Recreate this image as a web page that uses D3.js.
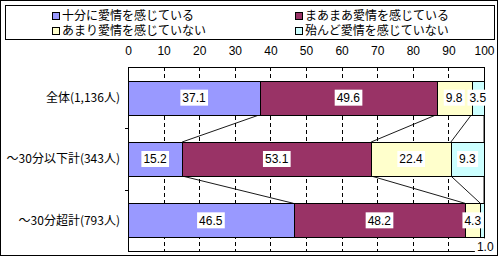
<!DOCTYPE html>
<html>
<head>
<meta charset="utf-8">
<script src="https://cdn.jsdelivr.net/npm/d3@7"></script>
<style>
  body { margin: 0; background: #fff; }
  svg { display: block; }
  .jp { font-family: "Noto Sans CJK JP", "Noto Sans", sans-serif; font-size: 12px; }
  .num { font-family: "Liberation Sans Narrow", "Liberation Sans", Arial, sans-serif; font-size: 12px; }
</style>
</head>
<body>
<div id="chart"></div>
<script>
// categories and series (percent)
const categories = ['全体(1,136人)', '～30分以下計(343人)', '～30分超計(793人)'];
const seriesNames = ['十分に愛情を感じている', 'まあまあ愛情を感じている', 'あまり愛情を感じていない', '殆んど愛情を感じていない'];
const seriesColors = ['#9999ff', '#993366', '#ffffcc', '#ccffff'];
const enough   = [37.1, 15.2, 46.5];
const fairly   = [49.6, 53.1, 48.2];
const little   = [9.8, 22.4, 4.3];
const hardly   = [3.5, 9.3, 1.0];
const tickValues = [0, 10, 20, 30, 40, 50, 60, 70, 80, 90, 100];

const width = 500, height = 257;
const plot = { left: 128, right: 484, top: 67, bottom: 251 };

const svg = d3.select('#chart').append('svg')
  .attr('width', width)
  .attr('height', height);

// outer frame
svg.append('rect')
  .attr('x', 0.5).attr('y', 0.5)
  .attr('width', 497).attr('height', 255)
  .attr('fill', '#fff').attr('stroke', '#000');

// legend
svg.append('rect')
  .attr('x', 5.5).attr('y', 5.5)
  .attr('width', 489).attr('height', 34)
  .attr('fill', '#fff').attr('stroke', '#000');

const legendPos = [[52, 12], [295, 12], [52, 27], [295, 27]];
const legend = svg.append('g').selectAll('g')
  .data(seriesNames)
  .enter().append('g')
  .attr('transform', (d, i) => `translate(${legendPos[i][0]},${legendPos[i][1]})`);
legend.append('rect')
  .attr('x', 0.5).attr('y', 0.5)
  .attr('width', 7).attr('height', 7)
  .attr('fill', (d, i) => seriesColors[i])
  .attr('stroke', '#000');
legend.append('text')
  .attr('class', 'jp')
  .attr('x', 10).attr('y', 4)
  .attr('dy', '0.36em')
  .text(d => d);

// scales
const x = d3.scaleLinear().domain([0, 100]).range([plot.left, plot.right]);
const y = d3.scaleBand().domain(categories)
  .range([plot.top, plot.bottom])
  .paddingInner(0.446)
  .paddingOuter(0.223);

// stacked data
const rows = categories.map((c, i) => ({ cat: c, vals: [enough[i], fairly[i], little[i], hardly[i]] }));
rows.forEach(r => {
  let acc = 0;
  r.segs = r.vals.map((v, k) => {
    const s = { k: k, v: v, x0: acc, x1: acc + v, cat: r.cat };
    acc += v;
    return s;
  });
});

// plot background + frame
svg.append('rect')
  .attr('x', plot.left + 0.5).attr('y', plot.top + 0.5)
  .attr('width', plot.right - plot.left).attr('height', plot.bottom - plot.top)
  .attr('fill', '#fff').attr('stroke', '#000');

// dashed gridlines
svg.append('g').selectAll('line')
  .data(tickValues.slice(1, -1))
  .enter().append('line')
  .attr('x1', d => Math.round(x(d)) + 0.5)
  .attr('x2', d => Math.round(x(d)) + 0.5)
  .attr('y1', plot.top)
  .attr('y2', plot.bottom)
  .attr('stroke', '#000')
  .attr('stroke-dasharray', '4,3');

// top axis labels
const axis = svg.append('g')
  .attr('transform', `translate(0,${plot.top})`)
  .call(d3.axisTop(x).tickValues(tickValues).tickSize(0).tickPadding(12));
axis.select('.domain').remove();
axis.selectAll('text')
  .attr('class', 'num')
  .attr('font-family', null)
  .attr('fill', '#000');

// category axis ticks at band boundaries
const step = y.step();
const bounds = [1, 2].map(i => plot.top + (plot.bottom - plot.top) * i / categories.length);
svg.append('g').selectAll('line')
  .data(bounds)
  .enter().append('line')
  .attr('x1', plot.left - 3)
  .attr('x2', plot.left)
  .attr('y1', d => Math.round(d) + 0.5)
  .attr('y2', d => Math.round(d) + 0.5)
  .attr('stroke', '#000');

// category labels
svg.append('g').selectAll('text')
  .data(categories)
  .enter().append('text')
  .attr('class', 'jp')
  .attr('x', plot.left - 8)
  .attr('y', d => y(d) + y.bandwidth() / 2)
  .attr('dy', '0.36em')
  .attr('text-anchor', 'end')
  .text(d => d);

// series lines between bars
const links = [];
for (let i = 0; i < rows.length - 1; i++) {
  rows[i].segs.forEach((s, k) => {
    links.push({ a: s.x1, b: rows[i + 1].segs[k].x1, y1: y(rows[i].cat) + y.bandwidth(), y2: y(rows[i + 1].cat) });
  });
}
svg.append('g').selectAll('line')
  .data(links)
  .enter().append('line')
  .attr('x1', d => x(d.a))
  .attr('x2', d => x(d.b))
  .attr('y1', d => d.y1)
  .attr('y2', d => d.y2)
  .attr('stroke', '#000')
  .attr('stroke-width', 0.9);

// bars
const segs = rows.flatMap(r => r.segs);
svg.append('g').selectAll('rect')
  .data(segs)
  .enter().append('rect')
  .attr('x', d => Math.round(x(d.x0)) + 0.5)
  .attr('y', d => Math.round(y(d.cat)) + 0.5)
  .attr('width', d => Math.round(x(d.x1)) - Math.round(x(d.x0)))
  .attr('height', Math.round(y.bandwidth()))
  .attr('fill', d => seriesColors[d.k])
  .attr('stroke', '#000');

// value labels with white boxes
const lab = svg.append('g').selectAll('g')
  .data(segs)
  .enter().append('g')
  .attr('transform', d => {
    const cx = x((d.x0 + d.x1) / 2);
    const cy = d.v < 2 ? y(d.cat) + y.bandwidth() + 9 : y(d.cat) + y.bandwidth() / 2;
    return `translate(${d.v < 2 ? cx + 3 : cx},${cy})`;
  });
lab.append('rect')
  .attr('x', -11).attr('y', -8)
  .attr('width', 22).attr('height', 16)
  .attr('fill', '#fff');
lab.append('text')
  .attr('class', 'num')
  .attr('text-anchor', 'middle')
  .attr('dy', '0.36em')
  .text(d => d.v.toFixed(1));
lab.each(function () {
  const t = d3.select(this).select('text').node().getBBox();
  d3.select(this).select('rect')
    .attr('x', t.x - 2).attr('width', t.width + 4);
});
</script>
</body>
</html>
